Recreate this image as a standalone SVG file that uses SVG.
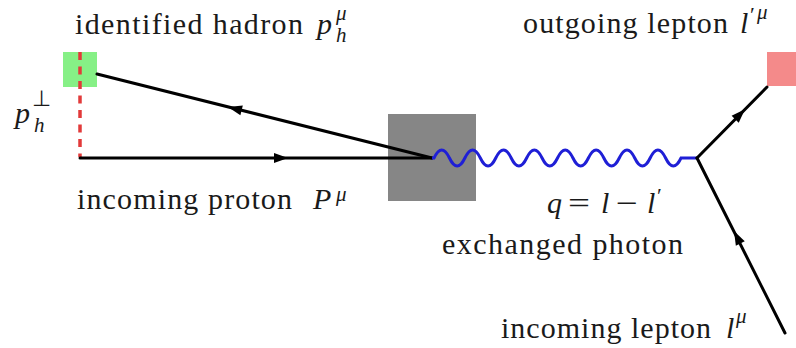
<svg xmlns="http://www.w3.org/2000/svg" xmlns:xlink="http://www.w3.org/1999/xlink" width="796" height="348" viewBox="0 0 796 348">
<style>
text{font-family:'Liberation Serif','Times New Roman',serif;fill:#1a1a1a}
.t{font-size:30px}
.m{font-style:italic;font-size:30px}
.s{font-style:italic;font-size:21px}
.u{font-size:22px}
.ln{stroke:#000;stroke-width:3;fill:none;stroke-linecap:round}
.wave{stroke:#1f1fd6;stroke-width:3;fill:none}
.dash{stroke:#e23a3a;stroke-width:3.5;fill:none;stroke-dasharray:8 6.5}
</style>
<defs>
<path id="ah" d="M0,0 L-14,-5 L-14,5 Z" fill="#000"/>
</defs>
<rect width="796" height="348" fill="#fff"/>
<g id="blob"><rect x="388" y="114" width="88" height="87" fill="#868686"/></g>
<g id="hadron"><rect x="63" y="52" width="34" height="35" fill="#86f086"/>
<text class="t" x="75" y="34" textLength="228">identified hadron</text>
<text class="m" x="317" y="34">p</text><text class="s" x="336" y="20">μ</text><text class="s" x="336" y="42">h</text></g>
<g id="lepton-out"><rect x="767" y="52" width="30" height="34" fill="#f48a8a"/>
<text class="t" x="523" y="33" textLength="205">outgoing lepton</text>
<text class="m" x="740" y="33">l</text><text class="u" x="750" y="22">′</text><text class="s" x="757" y="19">μ</text></g>
<g id="proton"><text class="t" x="77" y="209" textLength="215">incoming proton</text>
<text class="m" x="313" y="209">P</text><text class="s" x="336" y="201">μ</text></g>
<g id="photon"><text class="m" x="547" y="213">q</text><text class="t" x="568" y="213" textLength="22" lengthAdjust="spacingAndGlyphs">=</text><text class="m" x="601" y="213">l</text><text class="t" x="616" y="213" textLength="22" lengthAdjust="spacingAndGlyphs">−</text><text class="m" x="647" y="213">l</text><text class="u" x="657" y="203">′</text>
<text class="t" x="442" y="254" textLength="241">exchanged photon</text></g>
<g id="lepton-in"><text class="t" x="501" y="338" textLength="210">incoming lepton</text>
<text class="m" x="726" y="338">l</text><text class="s" x="736" y="323">μ</text></g>
<g id="pperp"><text class="m" x="15" y="123">p</text><text class="u" x="32" y="106">⊥</text><text class="s" x="34" y="132">h</text></g>
<g id="connectors">
<path class="dash" d="M80,52 V157"/>
<path class="ln" d="M80,158 H432"/>
<path class="ln" d="M97,74 L432,158"/>
<path class="wave" d="M432,158 h2 c5.15,-10.7 10.29,-10.7 15.44,0 c5.15,10.7 10.29,10.7 15.44,0 c5.15,-10.7 10.29,-10.7 15.44,0 c5.15,10.7 10.29,10.7 15.44,0 c5.15,-10.7 10.29,-10.7 15.44,0 c5.15,10.7 10.29,10.7 15.44,0 c5.15,-10.7 10.29,-10.7 15.44,0 c5.15,10.7 10.29,10.7 15.44,0 c5.15,-10.7 10.29,-10.7 15.44,0 c5.15,10.7 10.29,10.7 15.44,0 c5.15,-10.7 10.29,-10.7 15.44,0 c5.15,10.7 10.29,10.7 15.44,0 c5.15,-10.7 10.29,-10.7 15.44,0 c5.15,10.7 10.29,10.7 15.44,0 c5.15,-10.7 10.29,-10.7 15.44,0 c5.15,10.7 10.29,10.7 15.44,0 L697,158"/>
<path class="ln" d="M697,158 L767,87"/>
<path class="ln" d="M785,333 L697,158"/>
<use xlink:href="#ah" transform="translate(288,158)"/>
<use xlink:href="#ah" transform="translate(228,107) rotate(194.08)"/>
<use xlink:href="#ah" transform="translate(745,109.3) rotate(-45.4)"/>
<use xlink:href="#ah" transform="translate(734,231) rotate(243.3)"/>
</g>
</svg>
